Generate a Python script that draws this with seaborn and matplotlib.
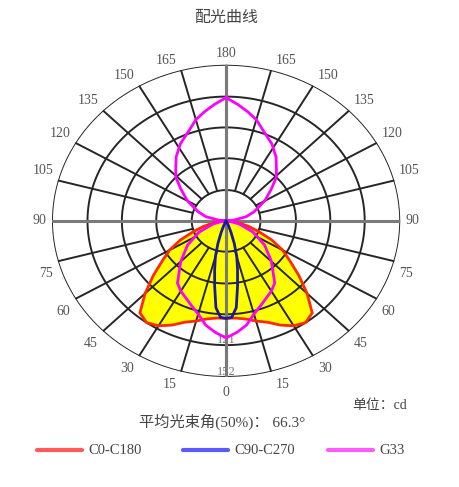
import numpy as np
import pandas as pd
import matplotlib
matplotlib.use('Agg')
import matplotlib.pyplot as plt
from matplotlib.lines import Line2D
import seaborn as sns

# angles in degrees from nadir (0 = down, 180 = up)
angles = [0, 5, 10, 15, 20, 25, 30, 35, 40, 45, 50, 55, 60, 65, 70, 75, 80, 85, 90]
# C0-C180 plane (cd)
c0_c180 = [95, 95, 97, 101, 105, 112, 118, 121, 117, 100, 83, 68, 57, 44, 30, 20, 11, 5, 0]

blue_angles = [0, 3, 6, 9, 12, 15, 18, 21, 24, 27]
c90_c270 = [95, 94, 85, 64, 48, 36, 23, 12, 5, 0]

g33_angles = [0, 5, 10, 15, 20, 30, 35, 45, 55, 65, 75, 85, 90,
              95, 103, 110, 120, 128, 134, 139, 145, 152, 160, 165, 170, 175, 180]
g33 = [114, 109, 103, 94, 88, 79, 74, 56, 41, 26, 12, 3, 0,
       6, 18, 26, 39, 50, 61, 67, 76, 85, 94, 102, 108, 114, 120]

ring_values = [30, 61, 91, 121, 152]
tick_angles = list(range(0, 181, 15))

sns.set_style('white')
plt.rcParams['font.family'] = ['Liberation Serif', 'Noto Sans CJK SC']

fig = plt.figure(figsize=(4.6, 4.87), dpi=100)
ax = fig.add_axes([0.113, 0.226, 0.757, 0.641], projection='polar')
ax.set_aspect('auto')
ax.set_theta_zero_location('S')
ax.grid(False)
ax.set_xticks([])
ax.set_yticks([])
ax.spines['polar'].set_visible(False)

rmax = ring_values[-1]
full = np.linspace(0, 2 * np.pi, 361)
# rings
for rv in ring_values:
    ax.plot(full, np.full_like(full, rv), color='#262626', lw=1.4, zorder=1)
# spokes
for a in tick_angles:
    for s in (1, -1):
        t = np.deg2rad(s * a)
        main = a in (0, 90, 180)
        ax.plot([t, t], [0 if main else ring_values[0], rmax],
                color='#7a7a7a' if main else '#262626',
                lw=2.2 if main else 1.4, zorder=1)

# angle labels, offset diagonally from spoke ends (in points); s=1 is the right side
for a in tick_angles:
    if a == 0:
        offs = [(1, 0, -11)]
    elif a == 180:
        offs = [(1, 0, 8)]
    else:
        if a > 90:
            dx, dy = 11, 7
        elif a < 90:
            dx, dy = 8.5, -9
        else:
            dx, dy = 9, 0
        offs = [(1, dx, dy), (-1, -dx, dy)]
    for s, ox, oy in offs:
        ax.annotate(str(a), xy=(np.deg2rad(s * a), rmax), xytext=(ox, oy),
                    textcoords='offset points', ha='center', va='center',
                    fontsize=10, color='#555555', annotation_clip=False)

# ring value labels (mostly hidden under the fill)
for rv in ring_values:
    ax.text(0, rv - 5, str(rv), ha='center', va='center', fontsize=9,
            color='#777777', zorder=0.3)


def mirror(ang, val):
    ang = np.array(ang, dtype=float)
    val = np.array(val, dtype=float)
    th = np.concatenate([-ang[::-1], ang[1:]])
    r = np.concatenate([val[::-1], val[1:]])
    return np.deg2rad(th), r


th_r, r_r = mirror(angles, c0_c180)
ax.fill(th_r, r_r, color='#ffff00', zorder=0.5)
df_red = pd.DataFrame({'theta': th_r, 'r': r_r})
sns.lineplot(data=df_red, x='theta', y='r', sort=False, estimator=None,
             color='#ff2a00', lw=2, ax=ax, zorder=3)

th_b, r_b = mirror(blue_angles, c90_c270)
df_blue = pd.DataFrame({'theta': th_b, 'r': r_b})
sns.lineplot(data=df_blue, x='theta', y='r', sort=False, estimator=None,
             color='#1a1aa0', lw=2, ax=ax, zorder=4)

th_g, r_g = mirror(g33_angles, g33)
df_g = pd.DataFrame({'theta': th_g, 'r': r_g})
sns.lineplot(data=df_g, x='theta', y='r', sort=False, estimator=None,
             color='#ff00ff', lw=2, ax=ax, zorder=3.5)

ax.set_xlabel('')
ax.set_ylabel('')
ax.set_ylim(0, rmax)

W, H = 460, 487
fig.text(226 / W, 1 - 18 / H, '配光曲线', ha='center', va='center', fontsize=11.5, color='#444444')
fig.text(380 / W, 1 - 406 / H, '单位：cd', ha='center', va='center', fontsize=10, color='#444444')
fig.text(222 / W, 1 - 422 / H, '平均光束角(50%)： 66.3°', ha='center', va='center',
         fontsize=11, color='#444444')

# legend
legend_names = ['C0-C180', 'C90-C270', 'G33']
legend_colors = ['#ff5a5a', '#5a5aff', '#ff5aff']
legend_x = [(37, 82), (183, 228), (328, 373)]
ly = 1 - 450 / H
for name, col, (x0, x1) in zip(legend_names, legend_colors, legend_x):
    fig.add_artist(Line2D([x0 / W, x1 / W], [ly, ly], color=col, lw=3,
                          transform=fig.transFigure))
    fig.text((x1 + 6) / W, ly, name, ha='left', va='center', fontsize=10.5, color='#444444')

fig.savefig('out.png', dpi=100)
